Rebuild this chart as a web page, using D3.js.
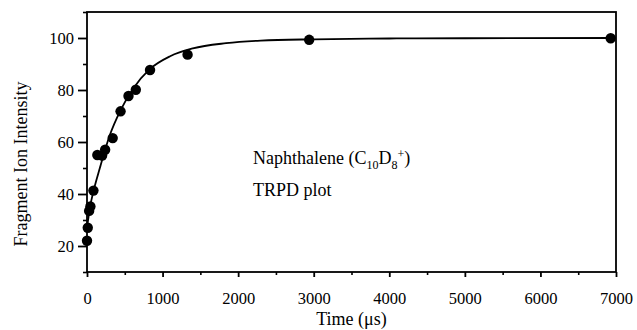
<!DOCTYPE html>
<html>
<head>
<meta charset="utf-8">
<script src="https://cdn.jsdelivr.net/npm/d3@7"></script>
<style>
  body { margin: 0; background: #fff; }
  svg { display: block; }
  svg text { font-family: "Liberation Serif", "Times New Roman", serif; fill: #000; }
</style>
</head>
<body>
<div id="chart"></div>
<script>
// measured points
const timeUs = [0, 10, 28, 45, 85, 137, 200, 240, 340, 444, 549, 646, 834, 1331, 2940, 6930];
const intensity = [22, 27, 33.5, 35.2, 41.3, 55, 54.8, 57, 61.5, 71.8, 77.7, 80.1, 87.7, 93.6, 99.3, 99.9];

// fitted curve
const fitTime = [0, 40, 85, 170, 300, 440, 610, 830, 1100, 1400, 1840, 2300, 3000, 4000, 5000, 7000];
const fitValue = [27, 35, 41, 50, 62.5, 72, 80.5, 88, 93, 96, 98, 99, 99.5, 99.8, 99.9, 100];

const xTicks = [0, 1000, 2000, 3000, 4000, 5000, 6000, 7000];
const yTicks = [20, 40, 60, 80, 100];

const width = 637, height = 330;
const margin = {top: 12, right: 21, bottom: 58, left: 87};

const svg = d3.select('#chart')
  .append('svg')
  .attr('width', width)
  .attr('height', height);

const x = d3.scaleLinear()
  .domain([0, 7000])
  .range([margin.left, width - margin.right]);

const y = d3.scaleLinear()
  .domain([10, 110])
  .range([height - margin.bottom, margin.top]);

// frame
svg.append('rect')
  .attr('x', margin.left)
  .attr('y', margin.top)
  .attr('width', width - margin.left - margin.right)
  .attr('height', height - margin.top - margin.bottom)
  .attr('fill', 'none')
  .attr('stroke', '#000')
  .attr('stroke-width', 1.8);

// minor ticks
const xMinor = d3.range(500, 7000, 1000);
const yMinor = d3.range(10, 111, 10).filter(v => !yTicks.includes(v));

svg.append('g')
  .attr('transform', `translate(0,${height - margin.bottom})`)
  .call(d3.axisBottom(x).tickValues(xMinor).tickSize(3).tickFormat(''))
  .call(g => g.select('.domain').remove())
  .call(g => g.selectAll('line').attr('stroke-width', 1.6));

svg.append('g')
  .attr('transform', `translate(${margin.left},0)`)
  .call(d3.axisLeft(y).tickValues(yMinor).tickSize(4).tickFormat(''))
  .call(g => g.select('.domain').remove())
  .call(g => g.selectAll('line').attr('stroke-width', 1.6));

// major ticks
svg.append('g')
  .attr('transform', `translate(0,${height - margin.bottom})`)
  .call(d3.axisBottom(x).tickValues(xTicks).tickFormat(d3.format('d')).tickSize(5).tickPadding(15))
  .attr('font-size', 16.5)
  .call(g => g.select('.domain').remove())
  .call(g => g.selectAll('line').attr('stroke-width', 1.8));

svg.append('g')
  .attr('transform', `translate(${margin.left},0)`)
  .call(d3.axisLeft(y).tickValues(yTicks).tickSize(9).tickPadding(4))
  .attr('font-size', 16.5)
  .call(g => g.select('.domain').remove())
  .call(g => g.selectAll('line').attr('stroke-width', 1.8));

// axis titles
svg.append('text')
  .attr('x', (margin.left + width - margin.right) / 2)
  .attr('y', 325)
  .attr('text-anchor', 'middle')
  .attr('font-size', 18)
  .text('Time (μs)');

svg.append('text')
  .attr('transform', `translate(27,164) rotate(-90)`)
  .attr('text-anchor', 'middle')
  .attr('font-size', 18)
  .text('Fragment Ion Intensity');

// fit curve
const line = d3.line()
  .x(d => x(d[0]))
  .y(d => y(d[1]))
  .curve(d3.curveMonotoneX);

svg.append('path')
  .datum(d3.zip(fitTime, fitValue))
  .attr('fill', 'none')
  .attr('stroke', '#000')
  .attr('stroke-width', 1.8)
  .attr('d', line);

// points
svg.append('g')
  .selectAll('circle')
  .data(d3.zip(timeUs, intensity))
  .join('circle')
  .attr('cx', d => x(d[0]))
  .attr('cy', d => y(d[1]))
  .attr('r', 5.2)
  .attr('fill', '#000');

// annotation
const note = svg.append('text')
  .attr('x', 253)
  .attr('y', 164)
  .attr('font-size', 18);
note.append('tspan').text('Naphthalene (C');
note.append('tspan').attr('font-size', 12).attr('dy', 5).text('10');
note.append('tspan').attr('dy', -5).text('D');
note.append('tspan').attr('font-size', 12).attr('dy', 5).text('8');
note.append('tspan').attr('font-size', 12).attr('dy', -11).text('+');
note.append('tspan').attr('dy', 6).text(')');

svg.append('text')
  .attr('x', 253)
  .attr('y', 196)
  .attr('font-size', 18)
  .text('TRPD plot');
</script>
</body>
</html>
